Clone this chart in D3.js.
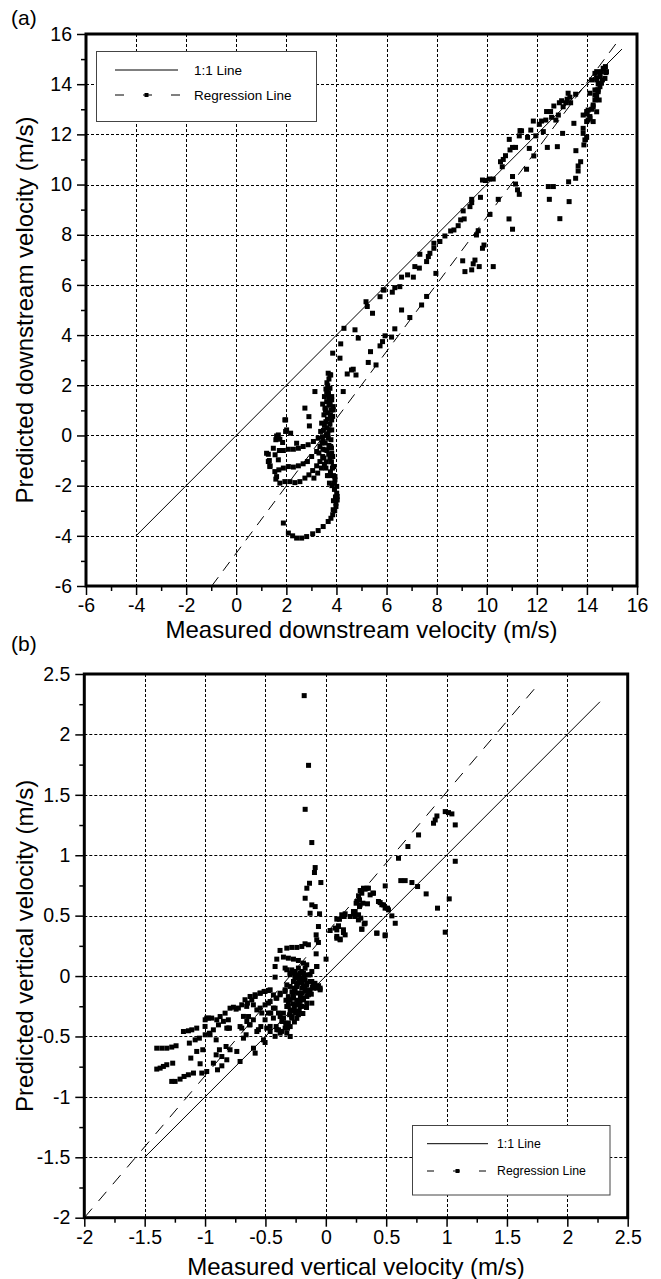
<!DOCTYPE html>
<html>
<head>
<meta charset="utf-8">
<script src="https://cdn.jsdelivr.net/npm/d3@7"></script>
<style>
body { margin: 0; background: #fff; }
text { font-family: "Liberation Sans", Arial, Helvetica, sans-serif; fill: #000; }
</style>
</head>
<body>
<svg id="fig" width="661" height="1279"></svg>
<script>
// ---- data ----
const downTicks = [-6, -4, -2, 0, 2, 4, 6, 8, 10, 12, 14, 16];
const vertTicks = [-2, -1.5, -1, -0.5, 0, 0.5, 1, 1.5, 2, 2.5];

// 1:1 and regression lines, end points as [measured, predicted]
const downOneToOne = [[-4, -4], [15.4, 15.4]];
const downRegression = [[-0.98, -6], [15.3, 15.8]];
const vertOneToOne = [[-1.5, -1.5], [2.27, 2.27]];
const vertRegression = [[-2, -2], [1.76, 2.415]];

// (a) measured vs predicted downstream velocity
const downstreamPts = [
  // branch along the 1:1 line
  [5.18,5.33],[5.23,5.14],[5.44,4.87],[5.74,5.53],[5.87,5.80],[5.90,5.80],[6.23,5.71],[6.33,5.89],[6.53,5.93],
  [6.60,6.31],[6.84,6.40],[7.07,6.31],[7.13,6.73],[7.31,6.67],[7.33,7.22],[7.60,6.93],[7.67,7.13],[7.73,7.26],
  [7.89,7.46],[7.89,7.66],[8.13,7.73],[8.33,7.95],[8.56,8.15],[8.69,8.19],[8.86,8.36],[8.96,8.59],[9.10,8.63],
  [9.06,8.95],[9.33,9.12],[9.40,9.28],[9.40,9.41],[9.75,9.49],[9.83,10.18],[9.95,10.16],[10.10,10.22],[10.26,10.22],
  [10.62,10.71],[10.55,10.91],[10.66,11.00],[10.75,11.15],[10.93,11.38],[11.03,11.48],[11.15,11.48],[10.90,11.80],
  [11.30,11.94],[11.39,12.14],[11.33,12.15],[11.63,11.88],[11.76,12.17],[11.86,12.53],[11.96,11.94],[12.10,12.40],
  [12.19,12.53],[12.26,12.11],[12.36,12.57],[12.39,12.91],[12.55,12.91],[12.59,12.68],[12.68,13.13],[12.76,12.57],
  [12.86,12.77],[12.90,13.26],[12.99,13.34],[13.05,13.10],[13.16,13.26],[13.21,13.40],[13.32,13.48],[13.35,13.26],
  [13.55,13.60],[13.25,13.64],
  // lower branch
  [7.60,5.54],[7.40,5.20],[6.60,5.00],[6.93,4.70],[7.97,6.46],[9.04,6.96],[9.13,6.53],[9.40,6.60],[9.46,6.84],
  [9.53,6.99],[9.70,6.73],[10.26,6.73],[9.83,7.46],[9.89,7.59],[9.66,8.16],[9.59,7.99],[10.13,8.81],[10.46,9.41],
  [10.89,8.63],[11.03,8.22],[11.03,10.32],[11.15,10.02],[11.23,9.79],[11.30,9.61],[11.59,10.61],[11.70,11.44],
  [11.88,11.14],[12.42,11.48],[12.82,11.51],[12.46,9.92],[12.50,9.41],[12.66,9.92],[12.92,8.64],[13.29,9.32],
  [13.03,12.04],[13.48,12.44],[13.27,10.11],[13.55,10.25],[13.65,10.54],[13.65,10.74],[13.75,10.91],[13.56,11.35],
  [13.88,11.58],[13.92,11.78],[13.99,11.88],[13.85,12.04],[13.85,12.24],[14.01,12.81],[14.05,12.57],[14.12,12.64],
  [14.19,13.00],[14.25,13.17],[14.32,13.37],[14.39,13.53],[14.41,13.77],[14.45,14.01],[14.52,14.30],[14.58,14.50],
  [14.68,14.63],[14.76,14.46],[14.39,14.23],[14.12,13.64],[13.99,12.91],[14.25,12.51],[14.45,13.70],[14.62,14.17],
  [14.32,14.43],
  // top right cluster
  [14.65,14.63],[14.78,14.50],[14.52,14.37],[14.72,14.23],[14.39,14.17],[14.58,14.04],[14.45,13.77],[14.32,13.57],
  [14.49,13.37],[14.25,13.10],[14.39,12.90],[14.12,12.71],[13.99,12.51],[13.85,12.77],[14.05,12.97],[14.32,13.77],
  [14.52,13.90],[14.19,14.17],[14.39,14.50],[14.74,14.70],
  // middle
  [4.30,4.27],[4.74,4.21],[4.87,3.88],[4.17,3.65],[4.14,3.08],[3.85,3.28],[5.94,3.97],[6.20,3.92],[5.84,3.74],
  [5.74,3.57],[6.33,4.25],[5.36,3.34],[5.27,2.91],[5.58,2.81],[4.60,2.61],[4.67,2.64],[4.78,2.41],[4.43,2.45],
  [4.27,1.75],[3.74,2.42],
  // fan and loop near 2-4 m/s
  [3.77,2.41],[3.65,1.98],[3.14,1.75],[2.74,1.09],[2.90,0.75],[2.92,0.38],[1.97,0.62],[1.97,0.16],[2.17,0.09],
  [1.61,-0.02],[1.85,-0.28],[1.74,-0.15],[1.48,-0.51],[1.28,-0.75],[1.32,-1.00],[1.35,-1.21],[1.55,-0.77],
  [1.72,-0.60],[1.88,-0.60],[2.08,-0.55],[2.28,-0.55],[2.48,-0.51],[2.67,-0.44],[2.87,-0.37],[3.08,-0.24],
  [3.27,-0.11],[2.41,-0.31],[1.68,-0.97],[1.70,-1.37],[1.88,-1.30],[2.08,-1.24],[2.28,-1.26],[2.48,-1.21],
  [2.67,-1.13],[2.84,-1.04],[3.01,-0.84],[3.21,-0.64],[3.34,-0.44],[1.58,-1.74],[1.74,-1.90],[1.94,-1.84],
  [2.14,-1.84],[2.34,-1.88],[2.54,-1.84],[2.74,-1.70],[2.90,-1.57],[3.05,-1.40],[3.21,-1.21],[3.34,-1.04],
  [3.45,-0.84],[3.54,-0.57],[3.47,-0.24],[3.37,0.16],[3.41,0.49],[3.50,0.82],[3.54,1.09],[3.61,1.35],[3.67,1.62],
  [3.74,1.88],[3.81,1.42],[3.87,1.02],[3.81,0.62],[3.71,0.22],[3.67,-0.11],[3.77,-0.44],[3.85,-0.84],[3.90,-1.24],
  [3.94,-1.64],[4.01,-2.03],[4.03,-2.43],[3.98,-2.83],[3.85,-3.16],[3.67,-3.43],[3.47,-3.63],[3.27,-3.79],
  [3.05,-3.92],[2.81,-4.03],[2.61,-4.09],[2.41,-4.09],[2.25,-4.00],[2.08,-3.89],[1.88,-3.49],[3.61,1.75],
  [1.21,-0.71],[1.28,-1.04],[1.34,-1.24],[1.61,-1.64],[1.54,-1.44],[1.94,0.62],[2.01,0.22],[1.68,0.02],
  [1.58,-0.17],[3.67,2.48],[3.81,1.55],[3.87,1.15],[3.85,0.76],[3.81,0.22],[3.78,-0.17],[3.81,-0.71],[3.87,-1.24],
  [3.94,-1.77],[4.01,-2.30],[4.03,-2.57],[3.87,-2.96],[3.78,-3.30],
  [3.55,-0.30],[3.60,0.00],[3.62,0.30],[3.58,0.55],[3.66,0.90],[3.70,1.20],[3.72,1.45],[3.68,1.70],[3.75,1.30],
  [3.78,1.00],[3.62,-0.60],[3.70,-0.40],[3.74,-0.90],[3.80,-0.50],[3.50,-0.90],[3.42,-0.30],[3.48,0.20],
  [3.30,-0.70],[3.40,-1.30],[3.25,-1.50],[3.10,-1.70],[3.58,-1.30],[3.70,-1.60],[3.82,-2.00],[3.88,-2.60],
  [3.92,-1.90],[3.84,-1.30],
  [3.62,2.10],[3.70,2.25],[3.58,1.85],[3.52,1.55],[3.45,1.25],[3.56,1.00],[3.64,0.65],[3.52,0.40],[3.44,-0.05],
  [3.66,0.05],[3.74,0.45],[3.76,0.80],[3.69,-0.75],[3.60,-1.05],[3.52,-1.15],[3.46,-0.55],[3.80,-1.05],
  [3.76,-1.45],[3.88,-1.60],[3.92,-2.15],[3.96,-2.45],[3.98,-2.70],[3.93,-3.00],[3.72,-1.90],[3.64,-1.60]
];

// (b) measured vs predicted vertical velocity
const verticalPts = [
  // upper-left band
  [-1.400,-0.770],[-1.372,-0.762],[-1.345,-0.748],[-1.317,-0.734],[-1.268,-0.721],[-1.400,-0.597],[-1.358,-0.597],
  [-1.317,-0.597],[-1.276,-0.588],[-1.240,-0.577],[-1.276,-0.872],[-1.248,-0.872],[-1.207,-0.853],[-1.174,-0.831],
  [-1.138,-0.817],[-1.096,-0.803],[-1.179,-0.459],[-1.138,-0.453],[-1.110,-0.445],[-1.069,-0.431],[-1.130,-0.555],
  [-1.082,-0.528],[-1.047,-0.514],[-1.118,-0.679],[-1.069,-0.624],[-1.019,-0.610],[-1.041,-0.726],[-1.027,-0.803],
  [-0.986,-0.790],[-0.999,-0.362],[-0.972,-0.348],[-0.964,-0.473],[-0.999,-0.486],[-0.931,-0.445],[-0.889,-0.404],
  [-0.903,-0.362],[-0.875,-0.335],[-0.834,-0.307],[-0.793,-0.266],[-0.765,-0.258],[-0.743,-0.274],[-0.908,-0.528],
  [-0.881,-0.610],[-0.861,-0.666],[-0.908,-0.652],[-0.931,-0.721],[-0.897,-0.776],[-0.861,-0.743],[-0.820,-0.693],
  [-0.820,-0.431],[-0.798,-0.431],[-0.793,-0.610],[-0.737,-0.624],[-0.826,-0.583],[-0.710,-0.707],[-0.682,-0.514],
  [-0.660,-0.486],[-0.710,-0.418],[-0.654,-0.376],[-0.640,-0.335],[-0.632,-0.404],[-0.599,-0.597],[-0.585,-0.638],
  [-0.649,-0.224],[-0.613,-0.197],[-0.585,-0.169],[-0.544,-0.142],[-0.511,-0.128],[-0.475,-0.120],[-0.503,-0.550],
  [-0.516,-0.528],[-0.538,-0.418],[-0.571,-0.459],[-0.571,-0.280],[-0.503,-0.238],[-0.461,-0.211],[-0.420,-0.266],
  [-0.434,-0.348],[-0.456,-0.307],[-0.489,-0.431],[-0.461,-0.459],[-0.411,-0.418],[-0.392,-0.445],[-0.364,-0.376],
  [-0.378,-0.335],[-0.351,-0.307],[-0.406,-0.183],[-0.434,-0.156],[-0.378,-0.142],[-0.337,-0.114],[-0.323,-0.073],
  [-0.420,-0.009],[-0.310,-0.224],[-0.323,-0.252],[-0.295,-0.280],[-0.329,-0.390],[-0.317,-0.431],[-0.295,-0.418],
  [-0.282,-0.335],[-0.268,-0.183],[-0.254,-0.128],[-0.240,-0.087],[-0.268,0.024],[-0.282,0.051],[-0.254,-0.018],
  [-0.226,-0.004],[-0.199,0.038],[-0.171,0.065],[-0.144,0.010],[-0.116,-0.045],[-0.102,-0.100],[-0.075,0.079],
  [-0.047,-0.100],[-0.130,-0.114],[-0.185,-0.087],[-0.226,-0.211],[-0.213,-0.252],[-0.185,-0.197],[-0.199,-0.142],
  [-0.157,-0.169],[-0.246,-0.307],[-0.295,-0.500],[-0.116,-0.224],[-0.157,-0.059],
  // dense core
  [-0.337,0.066],[-0.296,0.011],[-0.254,-0.003],[-0.268,-0.045],[-0.240,-0.072],[-0.199,-0.053],[-0.172,-0.031],
  [-0.158,-0.072],[-0.130,-0.045],[-0.103,-0.072],[-0.075,-0.100],[-0.047,-0.114],[-0.199,-0.100],[-0.172,-0.127],
  [-0.144,-0.155],[-0.185,-0.183],[-0.213,-0.210],[-0.240,-0.238],[-0.199,-0.251],[-0.158,-0.224],[-0.227,-0.141],
  [-0.268,-0.169],[-0.296,-0.196],[-0.310,-0.251],[-0.254,-0.293],[-0.227,-0.320],[-0.282,-0.348],[-0.310,-0.389],
  [-0.337,-0.431],[-0.365,-0.458],[-0.323,-0.472],[-0.130,0.011],[-0.116,0.038],[-0.227,0.066],[-0.185,0.024],
  [-0.296,-0.086],[-0.337,-0.127],[-0.378,-0.155],[-0.412,-0.183],[-0.461,-0.114],[-0.503,-0.127],[-0.544,-0.141],
  [-0.586,-0.155],[-0.627,-0.169],[-0.669,-0.196],[-0.696,-0.238],[-0.724,-0.265],[-0.655,-0.251],[-0.600,-0.238],
  [-0.544,-0.265],[-0.475,-0.224],[-0.434,-0.265],[-0.392,-0.306],[-0.475,-0.306],[-0.530,-0.306],[-0.503,-0.362],
  [-0.600,-0.362],[-0.627,-0.403],[-0.558,-0.444],[-0.461,-0.417],[-0.406,-0.444],[-0.420,-0.499],[-0.378,-0.472],
  [-0.848,-0.375],[-0.807,-0.362],[-0.986,-0.348],[-0.945,-0.348],[-1.000,-0.417],[-0.959,-0.486],[-0.807,-0.431],
  [-0.696,-0.431],[-0.682,-0.334],
  [-0.22,-0.03],[-0.19,-0.02],[-0.26,-0.10],[-0.23,-0.06],[-0.17,-0.09],[-0.14,-0.12],[-0.12,-0.15],[-0.21,-0.17],
  [-0.24,-0.20],[-0.27,-0.23],[-0.29,-0.29],[-0.26,-0.26],[-0.22,-0.29],[-0.19,-0.31],[-0.28,-0.13],[-0.31,-0.17],
  [-0.33,-0.20],[-0.30,-0.32],[-0.35,-0.35],[-0.33,-0.40],[-0.26,-0.38],[-0.24,-0.35],[-0.11,-0.09],[-0.09,-0.06],
  [-0.06,-0.08],[-0.16,-0.26],[-0.18,0.00],[-0.24,0.01],
  // rows just above zero
  [-0.379,0.212],[-0.323,0.231],[-0.282,0.237],[-0.240,0.237],[-0.199,0.245],[-0.172,0.267],[-0.144,0.259],
  [-0.406,0.140],[-0.351,0.157],[-0.310,0.148],[-0.268,0.140],[-0.227,0.129],[-0.185,0.107],[-0.158,0.093],
  [-0.420,0.079],[-0.323,0.052],[-0.296,0.024],[-0.254,0.038],[-0.213,0.024],
  // vertical spike near -0.15 m/s
  [-0.179,2.321],[-0.143,1.744],[-0.171,1.380],[-0.116,1.105],[-0.088,0.898],[-0.094,0.857],[-0.135,0.768],
  [-0.041,0.774],[-0.157,0.727],[-0.171,0.644],[-0.116,0.589],[-0.088,0.575],[-0.130,0.520],[-0.052,0.515],
  [-0.061,0.410],[-0.080,0.341],[-0.075,0.300],[-0.061,0.278],[-0.080,0.184],[0.002,0.140],[-0.075,0.079],
  // positive side
  [0.091,0.471],[0.132,0.507],[0.160,0.515],[0.229,0.534],[0.251,0.603],[0.279,0.631],[0.298,0.686],[0.326,0.719],
  [0.353,0.727],[0.367,0.672],[0.395,0.686],[0.436,0.617],[0.464,0.590],[0.491,0.562],[0.519,0.548],[0.284,0.589],
  [0.345,0.598],[0.243,0.493],[0.270,0.465],[0.326,0.438],[0.298,0.388],[0.422,0.355],[0.491,0.333],[0.077,0.397],
  [0.105,0.416],[0.146,0.383],[0.091,0.328],[0.118,0.306],[0.036,0.377],
  [0.989,1.361],[1.016,1.353],[1.044,1.342],[1.072,1.251],[0.920,1.325],[0.906,1.292],[0.892,1.265],[0.768,1.168],
  [0.680,1.072],[0.602,0.975],[1.072,0.950],[0.492,0.746],[0.621,0.790],[0.657,0.790],[0.713,0.774],[0.760,0.741],
  [0.831,0.680],[1.022,0.639],[0.925,0.562],[0.989,0.363],[0.450,0.608],[0.478,0.589],[0.511,0.562],[0.547,0.498],
  [0.575,0.437],[0.492,0.341],[0.423,0.355],[0.312,0.727],[0.340,0.727],[0.285,0.708],[0.390,0.686],[0.271,0.664],
  [0.257,0.617],[0.307,0.603],[0.279,0.575],[0.243,0.534],[0.229,0.515],[0.202,0.493],[0.271,0.507],[0.290,0.479],
  [0.318,0.432],[0.298,0.388],[0.113,0.470],[0.152,0.493],[0.091,0.382],[0.105,0.410],[0.146,0.360],[0.160,0.341],
  [0.091,0.313],[0.119,0.300]
];

// ---- drawing ----
const svg = d3.select('#fig');
const fmt = d => String(d);

function drawPanel(cfg) {
    const x = d3.scaleLinear().domain(cfg.domain).range([cfg.left, cfg.left + cfg.width]);
    const y = d3.scaleLinear().domain(cfg.domain).range([cfg.top + cfg.height, cfg.top]);
    const inner = cfg.ticks.slice(1, -1);
    const g = svg.append('g');

    // dashed grid
    g.append('g').selectAll('line').data(inner).join('line')
        .attr('x1', d => Math.round(x(d)) + 0.5).attr('x2', d => Math.round(x(d)) + 0.5)
        .attr('y1', cfg.top).attr('y2', cfg.top + cfg.height)
        .attr('stroke', '#000').attr('stroke-width', 1).attr('stroke-dasharray', '3,2');
    g.append('g').selectAll('line').data(inner).join('line')
        .attr('y1', d => Math.round(y(d)) + 0.5).attr('y2', d => Math.round(y(d)) + 0.5)
        .attr('x1', cfg.left).attr('x2', cfg.left + cfg.width)
        .attr('stroke', '#000').attr('stroke-width', 1).attr('stroke-dasharray', '3,2');

    // reference lines
    const line = d3.line().x(d => x(d[0])).y(d => y(d[1]));
    g.append('path').datum(cfg.oneToOne).attr('d', line)
        .attr('fill', 'none').attr('stroke', '#000').attr('stroke-width', 1);
    g.append('path').datum(cfg.regression).attr('d', line)
        .attr('fill', 'none').attr('stroke', '#000').attr('stroke-width', 1)
        .attr('stroke-dasharray', cfg.dash);

    // points
    const s = 5;
    g.append('g').selectAll('rect').data(cfg.points).join('rect')
        .attr('x', d => x(d[0]) - s / 2).attr('y', d => y(d[1]) - s / 2)
        .attr('width', s).attr('height', s).attr('fill', '#000');

    // axes
    const minor = d3.range(cfg.ticks.length - 1).map(i => (cfg.ticks[i] + cfg.ticks[i + 1]) / 2);
    const xAxis = g.append('g').attr('transform', `translate(0,${cfg.top + cfg.height})`)
        .call(d3.axisBottom(x).tickValues(cfg.ticks).tickSize(9).tickPadding(3).tickFormat(fmt));
    const xMinor = g.append('g').attr('transform', `translate(0,${cfg.top + cfg.height})`)
        .call(d3.axisBottom(x).tickValues(minor).tickSize(5).tickFormat(''));
    const yAxis = g.append('g').attr('transform', `translate(${cfg.left},0)`)
        .call(d3.axisLeft(y).tickValues(cfg.ticks).tickSize(9).tickPadding(5).tickFormat(fmt));
    const yMinor = g.append('g').attr('transform', `translate(${cfg.left},0)`)
        .call(d3.axisLeft(y).tickValues(minor).tickSize(5).tickFormat(''));
    [xAxis, xMinor, yAxis, yMinor].forEach(a => {
        a.select('.domain').remove();
        a.selectAll('line').attr('stroke', '#000').attr('stroke-width', 1.5);
        a.selectAll('text').attr('font-size', 19.5).attr('font-family', null).attr('fill', '#000');
    });

    // frame
    g.append('rect').attr('x', cfg.left).attr('y', cfg.top)
        .attr('width', cfg.width).attr('height', cfg.height)
        .attr('fill', 'none').attr('stroke', '#000').attr('stroke-width', 3);

    // titles
    g.append('text').attr('x', cfg.left + cfg.width / 2).attr('y', cfg.xTitleY)
        .attr('text-anchor', 'middle').attr('font-size', 24).text(cfg.xTitle);
    g.append('text').attr('transform', `translate(${cfg.yTitleX},${cfg.top + cfg.height / 2}) rotate(-90)`)
        .attr('text-anchor', 'middle').attr('font-size', 24).text(cfg.yTitle);
    g.append('text').attr('x', 11).attr('y', cfg.tagY).attr('font-size', 21).text(cfg.tag);

    // legend
    const L = cfg.legend;
    const lg = g.append('g');
    lg.append('rect').attr('x', L.x).attr('y', L.y).attr('width', L.w).attr('height', L.h)
        .attr('fill', '#fff').attr('stroke', '#444').attr('stroke-width', 1);
    lg.append('line').attr('x1', L.lx1).attr('x2', L.lx2).attr('y1', L.r1).attr('y2', L.r1)
        .attr('stroke', '#000').attr('stroke-width', 1);
    lg.append('line').attr('x1', L.lx1).attr('x2', L.lx2 + 3).attr('y1', L.r2).attr('y2', L.r2)
        .attr('stroke', '#000').attr('stroke-width', 1).attr('stroke-dasharray', L.dash);
    lg.append('rect').attr('x', (L.lx1 + L.lx2) / 2 - 2).attr('y', L.r2 - 2)
        .attr('width', 4).attr('height', 4).attr('fill', '#000');
    lg.append('text').attr('x', L.tx).attr('y', L.r1).attr('dy', '0.35em')
        .attr('font-size', L.fs).text('1:1 Line');
    lg.append('text').attr('x', L.tx).attr('y', L.r2).attr('dy', '0.35em')
        .attr('font-size', L.fs).text('Regression Line');
}

drawPanel({
    tag: '(a)', tagY: 25,
    domain: [-6, 16], ticks: downTicks,
    left: 86, top: 34, width: 551, height: 552,
    points: downstreamPts, oneToOne: downOneToOne, regression: downRegression, dash: '11,8',
    xTitle: 'Measured downstream velocity (m/s)', xTitleY: 637.5,
    yTitle: 'Predicted downstream velocity (m/s)', yTitleX: 32.5,
    legend: { x: 96.5, y: 51.5, w: 220, h: 70, lx1: 115, lx2: 178, r1: 70, r2: 95, tx: 194, fs: 13.5, dash: '9,19' }
});

drawPanel({
    tag: '(b)', tagY: 651,
    domain: [-2, 2.5], ticks: vertTicks,
    left: 84.3, top: 674, width: 543.4, height: 543.7,
    points: verticalPts, oneToOne: vertOneToOne, regression: vertRegression, dash: '12,10',
    xTitle: 'Measured vertical velocity (m/s)', xTitleY: 1275,
    yTitle: 'Predicted vertical velocity (m/s)', yTitleX: 32.5,
    legend: { x: 412.5, y: 1125.5, w: 197.5, h: 69.5, lx1: 427, lx2: 488, r1: 1143.7, r2: 1171, tx: 497, fs: 12.3, dash: '7,19' }
});
</script>
</body>
</html>
